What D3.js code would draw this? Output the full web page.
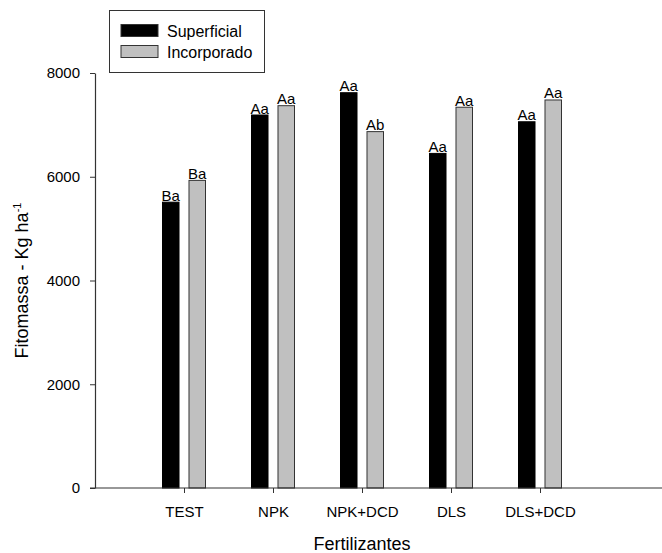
<!DOCTYPE html>
<html>
<head>
<meta charset="utf-8">
<script src="https://cdn.jsdelivr.net/npm/d3@7"></script>
<style>
  body { margin: 0; background: #fff; }
  svg { display: block; font-family: "Liberation Sans", Arial, sans-serif; }
</style>
</head>
<body>
<svg id="chart" width="662" height="553"></svg>
<script>
const categories = ["TEST", "NPK", "NPK+DCD", "DLS", "DLS+DCD"];
const seriesNames = ["Superficial", "Incorporado"];
const superficial = [5510, 7190, 7620, 6450, 7060];
const incorporado = [5930, 7370, 6870, 7340, 7480];
const labelsSuperficial = ["Ba", "Aa", "Aa", "Aa", "Aa"];
const labelsIncorporado = ["Ba", "Aa", "Ab", "Aa", "Aa"];
const yTicks = [0, 2000, 4000, 6000, 8000];
const colors = ["#000000", "#c0c0c0"];

const svg = d3.select("#chart");
const x0 = 95, x1 = 629, yTop = 73, yBot = 488;

const x = d3.scalePoint().domain(categories).range([x0, x1]).padding(1);
const xs = d3.scaleBand().domain(seriesNames).range([-21.5, 21.5]).paddingInner(0.377).paddingOuter(0);
const y = d3.scaleLinear().domain([0, 8000]).range([yBot, yTop]);

const data = [];
categories.forEach((c, i) => {
  data.push({cat: c, s: seriesNames[0], v: superficial[i], lab: labelsSuperficial[i], col: colors[0]});
  data.push({cat: c, s: seriesNames[1], v: incorporado[i], lab: labelsIncorporado[i], col: colors[1]});
});

// bars
svg.append("g").selectAll("rect").data(data).join("rect")
  .attr("x", d => x(d.cat) + xs(d.s))
  .attr("y", d => y(d.v))
  .attr("width", xs.bandwidth())
  .attr("height", d => y(0) - y(d.v))
  .attr("fill", d => d.col)
  .attr("stroke", d => d.s === seriesNames[0] ? "#000" : "#333")
  .attr("stroke-width", 1);

// bar labels
svg.append("g").selectAll("text").data(data).join("text")
  .attr("x", d => x(d.cat) + xs(d.s) + xs.bandwidth() / 2)
  .attr("y", d => y(d.v) - 1.5)
  .attr("text-anchor", "middle")
  .attr("font-size", 15)
  .attr("fill", "#000")
  .text(d => d.lab);

// y axis
const yAxis = svg.append("g").attr("transform", `translate(${x0},0)`)
  .call(d3.axisLeft(y).tickValues(yTicks).tickSize(5).tickSizeOuter(0).tickPadding(10).tickFormat(d3.format("d")));
yAxis.selectAll("text").attr("font-size", 15).attr("fill", "#000").attr("font-family", "Liberation Sans, Arial, sans-serif");
yAxis.selectAll("line").attr("stroke", "#333");
yAxis.select(".domain").attr("stroke", "#333").attr("stroke-width", 1.2);

// x axis
const xAxis = svg.append("g").attr("transform", `translate(0,${yBot})`)
  .call(d3.axisBottom(x).tickSize(5).tickSizeOuter(0).tickPadding(13));
xAxis.select(".domain").remove();
xAxis.selectAll("text").attr("font-size", 15).attr("fill", "#000").attr("font-family", "Liberation Sans, Arial, sans-serif");
xAxis.selectAll("line").attr("stroke", "#333");
svg.append("line").attr("x1", x0 - 5).attr("x2", 662).attr("y1", yBot).attr("y2", yBot)
  .attr("stroke", "#333").attr("stroke-width", 1.2);

// axis titles
svg.append("text").attr("x", 362).attr("y", 550).attr("text-anchor", "middle")
  .attr("font-size", 18).text("Fertilizantes");
const yt = svg.append("text").attr("transform", `translate(28,${(yTop + yBot) / 2}) rotate(-90)`)
  .attr("text-anchor", "middle").attr("font-size", 18);
yt.append("tspan").text("Fitomassa - Kg ha");
yt.append("tspan").attr("font-size", 11).attr("dy", -7).text("-1");

// legend
const lg = svg.append("g");
lg.append("rect").attr("x", 109.5).attr("y", 10.5).attr("width", 155).attr("height", 62)
  .attr("fill", "#fff").attr("stroke", "#333").attr("stroke-width", 1);
seriesNames.forEach((n, i) => {
  lg.append("rect").attr("x", 121).attr("y", 24.5 + i * 21).attr("width", 37).attr("height", 12)
    .attr("fill", colors[i]).attr("stroke", "#333").attr("stroke-width", 1);
  lg.append("text").attr("x", 167).attr("y", 37 + i * 21).attr("font-size", 16).text(n);
});
</script>
</body>
</html>
